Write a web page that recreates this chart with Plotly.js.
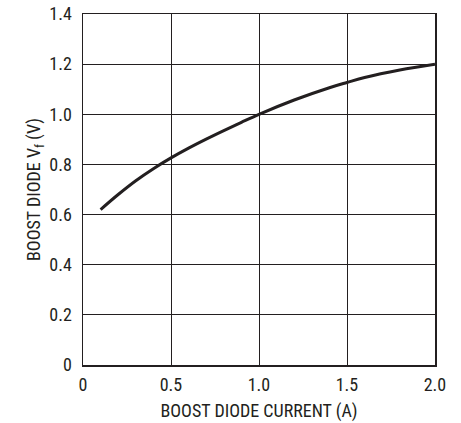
<!DOCTYPE html>
<html>
<head>
<meta charset="utf-8">
<script src="https://cdn.plot.ly/plotly-3.0.1.min.js"></script>
<style>html,body{margin:0;padding:0;background:#fff;}#chart{width:461px;height:423px;}</style>
</head>
<body>
<div id="chart"></div>
<script>
const currentA = [0.1, 0.2, 0.3, 0.4, 0.5, 0.6, 0.7, 0.8, 0.9, 1.0, 1.2, 1.4, 1.5, 1.6, 1.8, 2.0];
const vfV = [0.62, 0.68, 0.735, 0.783, 0.826, 0.865, 0.901, 0.935, 0.968, 1.0, 1.057, 1.106, 1.127, 1.147, 1.177, 1.2];
const xTickVals = [0, 0.5, 1.0, 1.5, 2.0];
const xTickText = ["0", "0.5", "1.0", "1.5", "2.0"];
const yTickVals = [0, 0.2, 0.4, 0.6, 0.8, 1.0, 1.2, 1.4];
const yTickText = ["0", "0.2", "0.4", "0.6", "0.8", "1.0", "1.2", "1.4"];

const fontFam = '"Liberation Sans Narrow", "Arial Narrow", "Roboto Condensed", "Liberation Sans", sans-serif';

const trace = {
  x: currentA, y: vfV, type: 'scatter', mode: 'lines',
  line: {color: '#231f20', width: 3, shape: 'spline', smoothing: 1},
  hoverinfo: 'none'
};

const layout = {
  width: 461, height: 423,
  margin: {l: 83, r: 26, t: 14, b: 58},
  paper_bgcolor: '#ffffff', plot_bgcolor: '#ffffff',
  showlegend: false,
  font: {family: fontFam, size: 18, color: '#231f20'},
  xaxis: {
    range: [0, 2.0], tickmode: 'array', tickvals: xTickVals, ticktext: xTickText,
    showgrid: true, gridcolor: '#231f20', gridwidth: 1,
    zeroline: false, showline: true, linecolor: '#231f20', linewidth: 1.5, mirror: true,
    ticks: '', ticklabelstandoff: 3,
    tickfont: {family: fontFam, size: 18, color: '#231f20'},
    title: {text: 'BOOST DIODE CURRENT (A)', font: {family: fontFam, size: 18, color: '#231f20'}, standoff: 10}
  },
  yaxis: {
    range: [0, 1.4], tickmode: 'array', tickvals: yTickVals, ticktext: yTickText,
    showgrid: true, gridcolor: '#231f20', gridwidth: 1,
    zeroline: false, showline: true, linecolor: '#231f20', linewidth: 1.5, mirror: true,
    ticks: '', ticklabelstandoff: 6,
    tickfont: {family: fontFam, size: 18, color: '#231f20'},
    title: {text: 'BOOST DIODE V<sub>f</sub> (V)', font: {family: fontFam, size: 18, color: '#231f20'}, standoff: 4}
  }
};

Plotly.newPlot('chart', [trace], layout, {displayModeBar: false, staticPlot: true});
</script>
</body>
</html>
